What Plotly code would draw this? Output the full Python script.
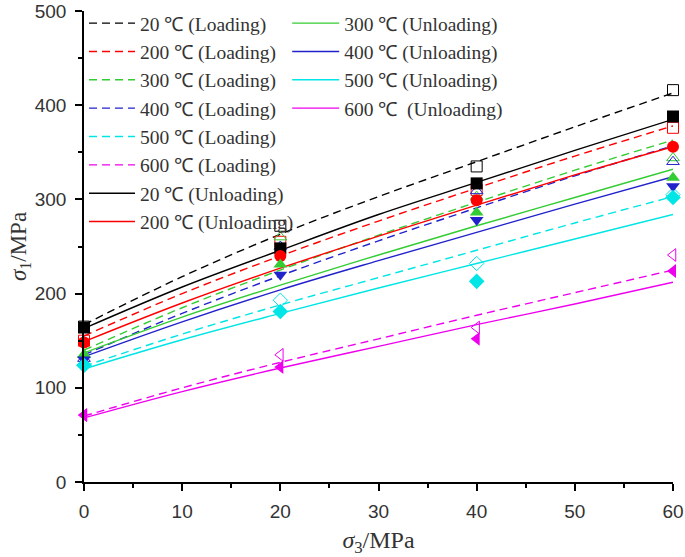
import plotly.graph_objects as go

# ---- data ----
temps = ["20", "200", "300", "400", "500", "600"]
colors = ["#000000", "#ff0000", "#33cc33", "#2222cc", "#00e5e5", "#ee00ee"]

sigma3_pts = [0, 20, 40, 60]
load_pts = {
    "20":  [165, 272, 335, 416],
    "200": [150, 255, 310, 376],
    "300": [135, 260, 303, 344],
    "400": [131, 250, 309, 340],
    "500": [124, 193, 232, 305],
    "600": [71, 135, 164, 241],
}
unload_pts = {
    "20":  [164, 248, 317, 388],
    "200": [148, 240, 299, 356],
    "300": [135, 231, 286, 323],
    "400": [130, 220, 278, 314],
    "500": [124, 181, 213, 302],
    "600": [71, 122, 152, 224],
}

sigma3_fit = [0, 10, 20, 30, 40, 50, 60]
load_fit = {
    "20":  [167, 218, 263, 303, 340, 377, 413],
    "200": [155, 200, 240, 277, 312, 346, 378],
    "300": [140, 185, 225, 262, 297, 331, 363],
    "400": [135, 179, 219, 256, 291, 325, 357],
    "500": [123, 157, 188, 217, 246, 275, 303],
    "600": [70, 100, 127, 152, 177, 201, 225],
}
unload_fit = {
    "20":  [163, 207, 246, 284, 318, 352, 385],
    "200": [149, 190, 227, 261, 294, 326, 356],
    "300": [137, 175, 209, 241, 272, 302, 332],
    "400": [133, 170, 204, 235, 265, 295, 324],
    "500": [120, 151, 179, 206, 232, 258, 284],
    "600": [68, 96, 121, 144, 167, 189, 212],
}

load_symbols = ["square-open", "square-open", "triangle-up-open", "triangle-up-open",
                "diamond-open", "triangle-left-open"]
unload_symbols = ["square", "circle", "triangle-up", "triangle-down",
                  "diamond", "triangle-left"]

legend_label_load = {t: f"{t} \u2103 (Loading)" for t in temps}
legend_label_unload = {t: f"{t} \u2103 (Unloading)" for t in temps}
legend_label_unload["600"] = "600 \u2103  (Unloading)"

fig = go.Figure()

# fitted lines (legend entries)
for i, t in enumerate(temps):
    fig.add_trace(go.Scatter(
        x=sigma3_fit, y=load_fit[t], mode="lines", line_shape="spline",
        line=dict(color=colors[i], width=1.4, dash="8px,5px"),
        name=legend_label_load[t], legend="legend"))
for i, t in enumerate(temps):
    fig.add_trace(go.Scatter(
        x=sigma3_fit, y=unload_fit[t], mode="lines", line_shape="spline",
        line=dict(color=colors[i], width=1.4),
        name=legend_label_unload[t],
        legend="legend" if t in ("20", "200") else "legend2"))

# markers
for i, t in enumerate(temps):
    fig.add_trace(go.Scatter(
        x=sigma3_pts, y=load_pts[t], mode="markers", showlegend=False,
        marker=dict(symbol=load_symbols[i], color=colors[i], size=11,
                    line=dict(width=1, color=colors[i])), cliponaxis=False))
for i, t in enumerate(temps):
    fig.add_trace(go.Scatter(
        x=sigma3_pts, y=unload_pts[t], mode="markers", showlegend=False,
        marker=dict(symbol=unload_symbols[i], color=colors[i], size=12,
                    line=dict(width=0)), cliponaxis=False))

serif = "Liberation Serif, Times New Roman, serif"
sans = "Liberation Sans, Arial, sans-serif"
txt = "#333333"

fig.update_layout(
    width=685, height=557,
    margin=dict(l=84, r=12, t=11, b=75, autoexpand=False),
    paper_bgcolor="white", plot_bgcolor="white",
    font=dict(family=sans, size=18, color=txt),
    legend=dict(x=0.0, y=1.015, xanchor="left", yanchor="top",
                bgcolor="rgba(0,0,0,0)", font=dict(family=serif, size=19.5, color=txt),
                tracegroupgap=0, itemwidth=46, traceorder="normal"),
    legend2=dict(x=0.345, y=1.015, xanchor="left", yanchor="top",
                 bgcolor="rgba(0,0,0,0)", font=dict(family=serif, size=19.5, color=txt),
                 tracegroupgap=0, itemwidth=47, traceorder="normal"),
    xaxis=dict(range=[0, 60], tickvals=[0, 10, 20, 30, 40, 50, 60], automargin=False,
               showgrid=False, zeroline=False, showline=True, linecolor="black",
               linewidth=1.5, ticks="outside", ticklen=7, tickwidth=1.5,
               tickcolor="black", tickfont=dict(family=sans, size=19, color=txt),
               ticklabelstandoff=4,
               minor=dict(dtick=5, ticks="outside", ticklen=4, tickwidth=1.5,
                          tickcolor="black"),
               title=dict(text="<i>σ</i><sub>3</sub>/MPa",
                          font=dict(family=serif, size=24, color=txt),
                          standoff=12)),
    yaxis=dict(range=[0, 500], tickvals=[0, 100, 200, 300, 400, 500], automargin=False,
               showgrid=False, zeroline=False, showline=True, linecolor="black",
               linewidth=1.5, ticks="outside", ticklen=7, tickwidth=1.5,
               tickcolor="black", tickfont=dict(family=sans, size=19, color=txt),
               ticklabelstandoff=5,
               minor=dict(dtick=50, ticks="outside", ticklen=4, tickwidth=1.5,
                          tickcolor="black"),
               title=dict(text="<i>σ</i><sub>1</sub>/MPa",
                          font=dict(family=serif, size=23, color=txt),
                          standoff=2)),
)

fig.write_html("out.html", config={"displayModeBar": False},
               post_script="document.body.style.margin='0';document.body.style.padding='0';")
